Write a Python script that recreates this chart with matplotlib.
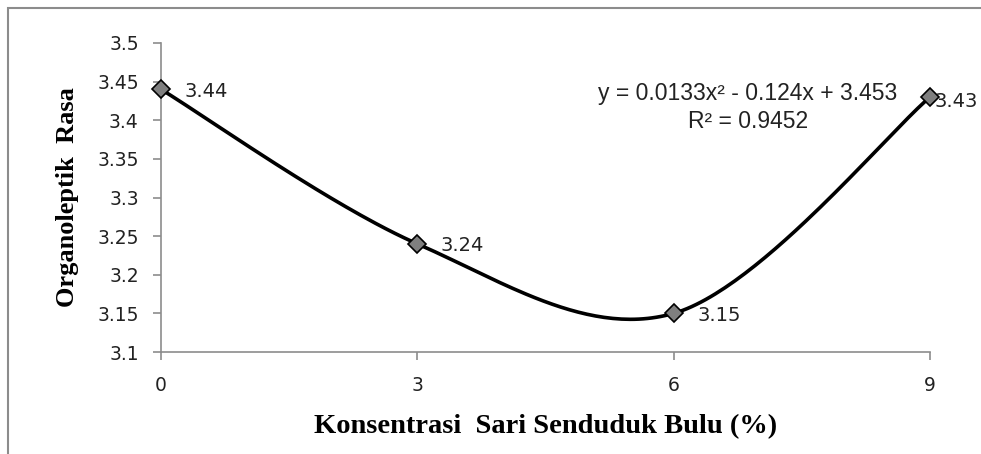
import numpy as np
import matplotlib.pyplot as plt
from matplotlib.patches import Rectangle

konsentrasi = [0, 3, 6, 9]
rasa = [3.44, 3.24, 3.15, 3.43]
label_titik = ["3.44", "3.24", "3.15", "3.43"]
y_ticks = [3.1, 3.15, 3.2, 3.25, 3.3, 3.35, 3.4, 3.45, 3.5]
y_ticklabels = ["3.1", "3.15", "3.2", "3.25", "3.3", "3.35", "3.4", "3.45", "3.5"]
persamaan = "y = 0.0133x² - 0.124x + 3.453"
r_kuadrat = "R² = 0.9452"


def kurva_halus(x, y, n=60):
    # smoothing ala Excel (bezier catmull-rom)
    x = np.asarray(x, float)
    y = np.asarray(y, float)
    px = np.concatenate([[x[0]], x, [x[-1]]])
    py = np.concatenate([[y[0]], y, [y[-1]]])
    xs, ys = [], []
    t = np.linspace(0, 1, n)
    for i in range(1, len(px) - 2):
        b0 = np.array([px[i], py[i]])
        b3 = np.array([px[i + 1], py[i + 1]])
        b1 = b0 + (np.array([px[i + 1], py[i + 1]]) - np.array([px[i - 1], py[i - 1]])) / 6
        b2 = b3 - (np.array([px[i + 2], py[i + 2]]) - np.array([px[i], py[i]])) / 6
        pts = ((1 - t) ** 3)[:, None] * b0 + (3 * (1 - t) ** 2 * t)[:, None] * b1 \
            + (3 * (1 - t) * t ** 2)[:, None] * b2 + (t ** 3)[:, None] * b3
        xs.extend(pts[:, 0])
        ys.extend(pts[:, 1])
    return xs, ys


fig = plt.figure(figsize=(9.81, 4.54), dpi=100)
fig.patches.append(Rectangle((8 / 981, -0.5), 2, 1.5 - 8 / 454, transform=fig.transFigure,
                             fill=False, edgecolor='#8c8c8c', linewidth=1.5))

ax = fig.add_axes([161 / 981, 102 / 454, 769 / 981, 309 / 454])

xs, ys = kurva_halus(konsentrasi, rasa)
ax.plot(xs, ys, color='black', linewidth=2.6, zorder=2, clip_on=False)
ax.plot(konsentrasi, rasa, linestyle='none', marker='D', markersize=9.5,
        markerfacecolor='#7f7f7f', markeredgecolor='black', markeredgewidth=1.2,
        zorder=3, clip_on=False)

# geser label (dalam point)
geser = [(17, -1.5), (17, -1.5), (17, -1.5), (3.5, -3.5)]
for xv, yv, lab, g in zip(konsentrasi, rasa, label_titik, geser):
    ax.annotate(lab, (xv, yv), xytext=g, textcoords='offset points',
                ha='left', va='center', fontsize=14, color='#222222',
                annotation_clip=False, zorder=4)

ax.text(6.87, 3.435, persamaan, ha='center', va='center', fontsize=16.5,
        family='Liberation Sans', color='#222222')
ax.text(6.87, 3.398, r_kuadrat, ha='center', va='center', fontsize=16.5,
        family='Liberation Sans', color='#222222')

ax.set_xlim(0, 9)
ax.set_ylim(3.1, 3.5)
ax.set_xticks(konsentrasi)
ax.set_xticklabels([str(k) for k in konsentrasi])
ax.set_yticks(y_ticks)
ax.set_yticklabels(y_ticklabels)

for s in ['top', 'right']:
    ax.spines[s].set_visible(False)
for s in ['left', 'bottom']:
    ax.spines[s].set_color('#8c8c8c')
    ax.spines[s].set_linewidth(1.2)
ax.tick_params(axis='both', direction='out', length=6, width=1.2, color='#8c8c8c',
               labelsize=13.5, labelcolor='#222222')
ax.tick_params(axis='y', pad=10)
ax.tick_params(axis='x', pad=11)

ax.set_xlabel("Konsentrasi  Sari Senduduk Bulu (%)", family='Liberation Serif',
              fontweight='bold', fontsize=20.5, labelpad=14)
ax.set_ylabel("Organoleptik  Rasa", family='Liberation Serif',
              fontweight='bold', fontsize=19, labelpad=13)

fig.savefig("out.png", dpi=100)
